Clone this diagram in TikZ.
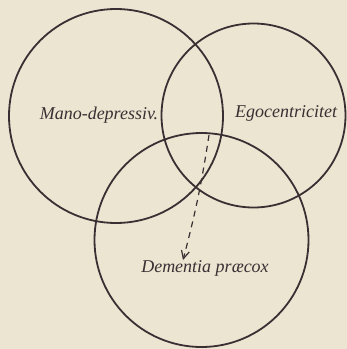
\documentclass[tikz,border=0pt]{standalone}
\usepackage{fontspec}
\setmainfont{Liberation Serif}
\usetikzlibrary{arrows.meta}
\definecolor{paper}{HTML}{ECE5D1}
\definecolor{ink}{HTML}{3A3034}
\tikzset{ring/.style={draw=ink,circle,line width=0.9pt,inner sep=0pt,outer sep=0pt},label text/.style={text=ink,font=\fontsize{9}{11}\selectfont\itshape,inner sep=1pt},hint/.style={-{Straight Barb[length=4pt,width=4pt]},dashed,dash pattern=on 3pt off 2.5pt,line width=0.6pt,ink}}

\begin{document}
\begin{tikzpicture}[x=1pt,y=1pt]
\fill[paper] (0,0) rectangle (173.5,-174.5);
\useasboundingbox (0,0) rectangle (173.5,-174.5);
\node[ring,minimum size=107pt] (manoring) at (58,-58) {};
\node[ring,minimum size=92pt] (egoring) at (126.75,-57.75) {};
\node[ring,minimum size=107pt] (demring) at (100.75,-120) {};
\node[label text] (mano) at (49.5,-57.5) {Mano-depressiv.};
\node[label text] (ego) at (143,-56.5) {Egocentricitet};
\node[label text] (dem) at (102.5,-134) {Dementia præcox};
\coordinate (from) at (104.5,-67.5);
\coordinate (to) at (91.5,-130);
\draw[hint] (from) to[bend left=3] (to);
\end{tikzpicture}
\end{document}
